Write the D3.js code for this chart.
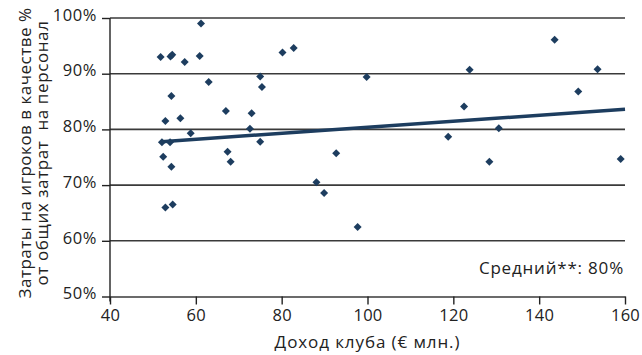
<!DOCTYPE html>
<html><head><meta charset="utf-8">
<script src="https://cdn.jsdelivr.net/npm/d3@7"></script>
<style>
body{margin:0;background:#fff;}
text{font-family:"Open Sans","Noto Sans",sans-serif;fill:#222;white-space:pre;}
</style></head><body>
<svg id="c" width="642" height="355"></svg>
<script>
const revenue = [51.8,54.1,54.5,57.4,61.2,60.9,63.0,54.3,52.9,56.4,58.8,67.0,73.0,72.6,75.0,75.4,75.0,52.1,54.0,52.4,54.3,52.9,54.6,67.4,68.1,80.2,82.8,99.8,92.7,88.1,89.9,97.7,118.8,122.5,123.8,143.6,153.6,149.1,130.6,128.4,159.0];
const share   = [93.0,93.1,93.4,92.1,99.0,93.2,88.5,86.0,81.5,82.0,79.3,83.3,82.9,80.1,89.5,87.6,77.8,77.7,77.7,75.1,73.3,66.0,66.5,76.0,74.2,93.8,94.6,89.4,75.7,70.5,68.6,62.5,78.7,84.1,90.7,96.1,90.8,86.8,80.2,74.2,74.7];
const trendX = [52, 160];
const trendY = [77.8, 83.6];
const xTicks = [40,60,80,100,120,140,160];
const yTicks = [50,60,70,80,90,100];
const xTitle = "Доход клуба (€ млн.)";
const yTitle = ["Затраты на игроков в качестве %", "от общих затрат  на персонал"];
const note = "Средний**: 80%";

const svg = d3.select("#c");
const x = d3.scaleLinear().domain([40,160]).range([110,625]);
const y = d3.scaleLinear().domain([50,100]).range([296.5,18]);
const dark = "#1d3d5f";
const tfs = 16.5, lfs = 17;

// gridlines
svg.append("g").selectAll("line").data(yTicks.filter(d=>d>50)).join("line")
  .attr("x1",x(40)).attr("x2",x(160)).attr("y1",d=>y(d)).attr("y2",d=>y(d))
  .attr("stroke","#3a3a3a").attr("stroke-width",1.6);

// x axis
const xa = svg.append("g").attr("transform",`translate(0,${y(50)})`)
  .call(d3.axisBottom(x).tickValues(xTicks).tickSize(8).tickPadding(5).tickSizeOuter(0));
xa.select(".domain").attr("stroke","#3a3a3a").attr("stroke-width",1.6);
xa.selectAll(".tick line").attr("stroke","#222").attr("stroke-width",1.4);
xa.selectAll("text").attr("font-size",tfs).attr("fill","#222").style("font-family","'Open Sans'").style("letter-spacing","0.3px");

// y axis
const ya = svg.append("g").attr("transform",`translate(${x(40)},0)`)
  .call(d3.axisLeft(y).tickValues(yTicks).tickFormat(d=>d+"%").tickSize(8).tickPadding(5).tickSizeOuter(0));
ya.select(".domain").attr("stroke","#222").attr("stroke-width",1.4).attr("d",`M0,${y(100)}V${y(50)+5}`);
ya.selectAll(".tick line").attr("stroke","#222").attr("stroke-width",1.4);
ya.selectAll("text").attr("font-size",tfs).attr("fill","#222").attr("y",-3)
  .style("font-family","'Open Sans'").style("letter-spacing","0.6px");

// trend line
svg.append("line").attr("x1",x(trendX[0])).attr("y1",y(trendY[0]))
  .attr("x2",x(trendX[1])).attr("y2",y(trendY[1]))
  .attr("stroke",dark).attr("stroke-width",3.5);

// points
const pts = revenue.map((r,i)=>({r, s:share[i]}));
svg.append("g").selectAll("path").data(pts).join("path")
  .attr("d",d3.symbol(d3.symbolSquare,32))
  .attr("transform",d=>`translate(${x(d.r)},${y(d.s)}) rotate(45)`)
  .attr("fill",dark);

// titles
svg.append("text").attr("x",(x(40)+x(160))/2).attr("y",348).attr("text-anchor","middle")
  .attr("font-size",lfs).style("letter-spacing","0.9px").text(xTitle);
const yt = svg.append("text").attr("transform",`translate(0,153) rotate(-90)`).attr("text-anchor","middle").attr("font-size",lfs);
yt.append("tspan").attr("x",0).attr("y",31).style("letter-spacing","0.5px").text(yTitle[0]);
yt.append("tspan").attr("x",0).attr("y",48).style("letter-spacing","0.6px").text(yTitle[1]);

svg.append("text").attr("x",624).attr("y",274).attr("text-anchor","end").attr("font-size",lfs)
  .style("letter-spacing","0.8px").text(note);
</script>
</body></html>
